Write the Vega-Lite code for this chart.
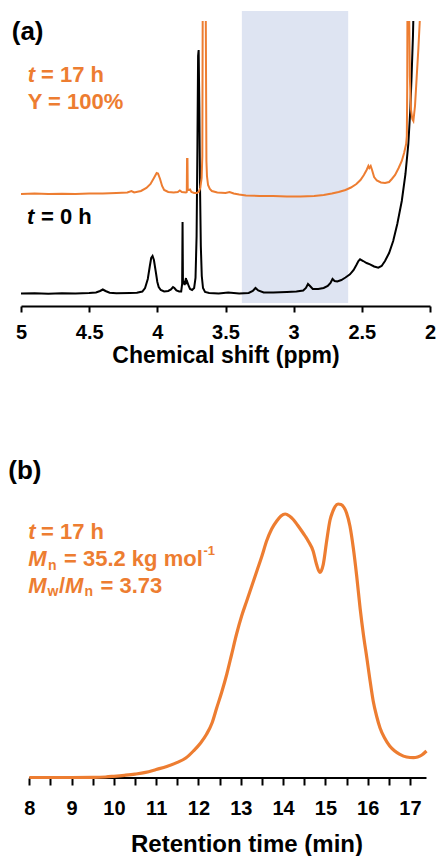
{
  "$schema": "https://vega.github.io/schema/vega-lite/v6.json",
  "background": "white",
  "padding": {"left": 8, "top": 10, "right": 1, "bottom": 0},
  "bounds": "flush",
  "spacing": 192,
  "config": {
    "view": {"stroke": null},
    "font": "Liberation Sans",
    "axis": {
      "labelFont": "Liberation Sans", "labelFontSize": 20, "labelFontWeight": "bold", "labelColor": "#000000",
      "titleFont": "Liberation Sans", "titleFontWeight": "bold", "titleColor": "#000000",
      "tickColor": "#000000", "domainColor": "#000000", "tickWidth": 2, "domainWidth": 2,
      "grid": false, "labelOverlap": false, "labelFlush": false, "labelBound": false
    },
    "text": {"font": "Liberation Sans"}
  },
  "datasets": {
    "shade": [{"ppm": 3.38, "ppm2": 2.60, "intensity": 3, "intensity2": 295}],
    "nmr": [
      {"series":"t = 0 h","ppm":5.0,"intensity":12.5},{"series":"t = 0 h","ppm":4.9,"intensity":12.8},{"series":"t = 0 h","ppm":4.8,"intensity":12.3},{"series":"t = 0 h","ppm":4.7,"intensity":12.8},{"series":"t = 0 h","ppm":4.6,"intensity":12.5},{"series":"t = 0 h","ppm":4.5,"intensity":13},{"series":"t = 0 h","ppm":4.45,"intensity":13.5},{"series":"t = 0 h","ppm":4.42,"intensity":15},{"series":"t = 0 h","ppm":4.40,"intensity":16.5},{"series":"t = 0 h","ppm":4.38,"intensity":15},{"series":"t = 0 h","ppm":4.35,"intensity":13.3},{"series":"t = 0 h","ppm":4.3,"intensity":12.8},{"series":"t = 0 h","ppm":4.2,"intensity":13},{"series":"t = 0 h","ppm":4.15,"intensity":13.2},{"series":"t = 0 h","ppm":4.11,"intensity":14.5},{"series":"t = 0 h","ppm":4.09,"intensity":18},{"series":"t = 0 h","ppm":4.07,"intensity":27},{"series":"t = 0 h","ppm":4.055,"intensity":40},{"series":"t = 0 h","ppm":4.045,"intensity":48},{"series":"t = 0 h","ppm":4.035,"intensity":50},{"series":"t = 0 h","ppm":4.025,"intensity":46},{"series":"t = 0 h","ppm":4.01,"intensity":33},{"series":"t = 0 h","ppm":4.0,"intensity":24},{"series":"t = 0 h","ppm":3.99,"intensity":19},{"series":"t = 0 h","ppm":3.975,"intensity":16},{"series":"t = 0 h","ppm":3.95,"intensity":14.5},{"series":"t = 0 h","ppm":3.92,"intensity":15},{"series":"t = 0 h","ppm":3.90,"intensity":16.5},{"series":"t = 0 h","ppm":3.885,"intensity":19},{"series":"t = 0 h","ppm":3.875,"intensity":18},{"series":"t = 0 h","ppm":3.86,"intensity":15.5},{"series":"t = 0 h","ppm":3.84,"intensity":14.5},{"series":"t = 0 h","ppm":3.825,"intensity":14.5},{"series":"t = 0 h","ppm":3.818,"intensity":22},{"series":"t = 0 h","ppm":3.815,"intensity":84},{"series":"t = 0 h","ppm":3.812,"intensity":22},{"series":"t = 0 h","ppm":3.806,"intensity":25},{"series":"t = 0 h","ppm":3.80,"intensity":21},{"series":"t = 0 h","ppm":3.795,"intensity":24},{"series":"t = 0 h","ppm":3.79,"intensity":28},{"series":"t = 0 h","ppm":3.786,"intensity":22},{"series":"t = 0 h","ppm":3.78,"intensity":24},{"series":"t = 0 h","ppm":3.77,"intensity":20},{"series":"t = 0 h","ppm":3.76,"intensity":17},{"series":"t = 0 h","ppm":3.745,"intensity":16},{"series":"t = 0 h","ppm":3.73,"intensity":18},{"series":"t = 0 h","ppm":3.72,"intensity":28},{"series":"t = 0 h","ppm":3.712,"intensity":70},{"series":"t = 0 h","ppm":3.706,"intensity":160},{"series":"t = 0 h","ppm":3.701,"intensity":250},{"series":"t = 0 h","ppm":3.697,"intensity":256},{"series":"t = 0 h","ppm":3.692,"intensity":200},{"series":"t = 0 h","ppm":3.687,"intensity":120},{"series":"t = 0 h","ppm":3.681,"intensity":60},{"series":"t = 0 h","ppm":3.674,"intensity":30},{"series":"t = 0 h","ppm":3.665,"intensity":18},{"series":"t = 0 h","ppm":3.65,"intensity":14},{"series":"t = 0 h","ppm":3.62,"intensity":13},{"series":"t = 0 h","ppm":3.55,"intensity":12.5},{"series":"t = 0 h","ppm":3.48,"intensity":13.5},{"series":"t = 0 h","ppm":3.4,"intensity":12.5},{"series":"t = 0 h","ppm":3.33,"intensity":13},{"series":"t = 0 h","ppm":3.30,"intensity":15},{"series":"t = 0 h","ppm":3.28,"intensity":18},{"series":"t = 0 h","ppm":3.26,"intensity":15.5},{"series":"t = 0 h","ppm":3.22,"intensity":13.5},{"series":"t = 0 h","ppm":3.15,"intensity":13.5},{"series":"t = 0 h","ppm":3.05,"intensity":14},{"series":"t = 0 h","ppm":2.98,"intensity":14.5},{"series":"t = 0 h","ppm":2.93,"intensity":15.5},{"series":"t = 0 h","ppm":2.91,"intensity":18},{"series":"t = 0 h","ppm":2.895,"intensity":22},{"series":"t = 0 h","ppm":2.88,"intensity":20},{"series":"t = 0 h","ppm":2.86,"intensity":17},{"series":"t = 0 h","ppm":2.82,"intensity":17},{"series":"t = 0 h","ppm":2.78,"intensity":18},{"series":"t = 0 h","ppm":2.75,"intensity":20},{"series":"t = 0 h","ppm":2.73,"intensity":23},{"series":"t = 0 h","ppm":2.715,"intensity":27},{"series":"t = 0 h","ppm":2.70,"intensity":25},{"series":"t = 0 h","ppm":2.68,"intensity":24.5},{"series":"t = 0 h","ppm":2.65,"intensity":26},{"series":"t = 0 h","ppm":2.62,"intensity":28.5},{"series":"t = 0 h","ppm":2.587,"intensity":31.7},{"series":"t = 0 h","ppm":2.56,"intensity":36},{"series":"t = 0 h","ppm":2.54,"intensity":41},{"series":"t = 0 h","ppm":2.525,"intensity":45},{"series":"t = 0 h","ppm":2.513,"intensity":46.7},{"series":"t = 0 h","ppm":2.49,"intensity":45},{"series":"t = 0 h","ppm":2.465,"intensity":43},{"series":"t = 0 h","ppm":2.44,"intensity":41.7},{"series":"t = 0 h","ppm":2.41,"intensity":39.5},{"series":"t = 0 h","ppm":2.379,"intensity":38.3},{"series":"t = 0 h","ppm":2.355,"intensity":40},{"series":"t = 0 h","ppm":2.33,"intensity":45},{"series":"t = 0 h","ppm":2.30,"intensity":53},{"series":"t = 0 h","ppm":2.27,"intensity":65},{"series":"t = 0 h","ppm":2.24,"intensity":82},{"series":"t = 0 h","ppm":2.207,"intensity":105},{"series":"t = 0 h","ppm":2.18,"intensity":132},{"series":"t = 0 h","ppm":2.159,"intensity":162},{"series":"t = 0 h","ppm":2.145,"intensity":195},{"series":"t = 0 h","ppm":2.135,"intensity":230},{"series":"t = 0 h","ppm":2.125,"intensity":270},{"series":"t = 0 h","ppm":2.12,"intensity":300},{"series":"t = 0 h","ppm":2.115,"intensity":340},
      {"series":"t = 17 h","ppm":5.0,"intensity":112},{"series":"t = 17 h","ppm":4.9,"intensity":112.5},{"series":"t = 17 h","ppm":4.8,"intensity":112},{"series":"t = 17 h","ppm":4.7,"intensity":112.3},{"series":"t = 17 h","ppm":4.6,"intensity":112},{"series":"t = 17 h","ppm":4.5,"intensity":112.5},{"series":"t = 17 h","ppm":4.4,"intensity":112.5},{"series":"t = 17 h","ppm":4.3,"intensity":113},{"series":"t = 17 h","ppm":4.22,"intensity":113.5},{"series":"t = 17 h","ppm":4.19,"intensity":115},{"series":"t = 17 h","ppm":4.17,"intensity":113.5},{"series":"t = 17 h","ppm":4.12,"intensity":115},{"series":"t = 17 h","ppm":4.08,"intensity":118},{"series":"t = 17 h","ppm":4.05,"intensity":122},{"series":"t = 17 h","ppm":4.025,"intensity":128},{"series":"t = 17 h","ppm":4.005,"intensity":133},{"series":"t = 17 h","ppm":3.995,"intensity":132.5},{"series":"t = 17 h","ppm":3.98,"intensity":127},{"series":"t = 17 h","ppm":3.965,"intensity":120},{"series":"t = 17 h","ppm":3.95,"intensity":116},{"series":"t = 17 h","ppm":3.92,"intensity":114},{"series":"t = 17 h","ppm":3.88,"intensity":113.5},{"series":"t = 17 h","ppm":3.85,"intensity":114},{"series":"t = 17 h","ppm":3.835,"intensity":115.5},{"series":"t = 17 h","ppm":3.82,"intensity":114},{"series":"t = 17 h","ppm":3.79,"intensity":113.5},{"series":"t = 17 h","ppm":3.784,"intensity":114},{"series":"t = 17 h","ppm":3.782,"intensity":147},{"series":"t = 17 h","ppm":3.779,"intensity":147},{"series":"t = 17 h","ppm":3.777,"intensity":116},{"series":"t = 17 h","ppm":3.77,"intensity":116},{"series":"t = 17 h","ppm":3.76,"intensity":116.5},{"series":"t = 17 h","ppm":3.75,"intensity":114},{"series":"t = 17 h","ppm":3.73,"intensity":113},{"series":"t = 17 h","ppm":3.71,"intensity":113},{"series":"t = 17 h","ppm":3.695,"intensity":114.5},{"series":"t = 17 h","ppm":3.685,"intensity":118},{"series":"t = 17 h","ppm":3.675,"intensity":128},{"series":"t = 17 h","ppm":3.67,"intensity":150},{"series":"t = 17 h","ppm":3.667,"intensity":300},{"series":"t = 17 h","ppm":3.66,"intensity":400},{"series":"t = 17 h","ppm":3.65,"intensity":400},{"series":"t = 17 h","ppm":3.645,"intensity":300},{"series":"t = 17 h","ppm":3.64,"intensity":145},{"series":"t = 17 h","ppm":3.636,"intensity":130},{"series":"t = 17 h","ppm":3.628,"intensity":121},{"series":"t = 17 h","ppm":3.615,"intensity":117},{"series":"t = 17 h","ppm":3.6,"intensity":115},{"series":"t = 17 h","ppm":3.56,"intensity":113.5},{"series":"t = 17 h","ppm":3.5,"intensity":113},{"series":"t = 17 h","ppm":3.47,"intensity":114},{"series":"t = 17 h","ppm":3.44,"intensity":112.5},{"series":"t = 17 h","ppm":3.4,"intensity":111.5},{"series":"t = 17 h","ppm":3.35,"intensity":110.5},{"series":"t = 17 h","ppm":3.25,"intensity":110},{"series":"t = 17 h","ppm":3.15,"intensity":110},{"series":"t = 17 h","ppm":3.05,"intensity":109.5},{"series":"t = 17 h","ppm":2.95,"intensity":109.5},{"series":"t = 17 h","ppm":2.85,"intensity":110},{"series":"t = 17 h","ppm":2.78,"intensity":111},{"series":"t = 17 h","ppm":2.72,"intensity":112.5},{"series":"t = 17 h","ppm":2.67,"intensity":114},{"series":"t = 17 h","ppm":2.62,"intensity":116},{"series":"t = 17 h","ppm":2.58,"intensity":118.5},{"series":"t = 17 h","ppm":2.54,"intensity":122},{"series":"t = 17 h","ppm":2.51,"intensity":126},{"series":"t = 17 h","ppm":2.485,"intensity":131},{"series":"t = 17 h","ppm":2.465,"intensity":136},{"series":"t = 17 h","ppm":2.452,"intensity":140},{"series":"t = 17 h","ppm":2.445,"intensity":138},{"series":"t = 17 h","ppm":2.435,"intensity":140},{"series":"t = 17 h","ppm":2.425,"intensity":136},{"series":"t = 17 h","ppm":2.41,"intensity":129},{"series":"t = 17 h","ppm":2.39,"intensity":125.5},{"series":"t = 17 h","ppm":2.36,"intensity":123.5},{"series":"t = 17 h","ppm":2.33,"intensity":123},{"series":"t = 17 h","ppm":2.30,"intensity":124},{"series":"t = 17 h","ppm":2.28,"intensity":127},{"series":"t = 17 h","ppm":2.256,"intensity":131},{"series":"t = 17 h","ppm":2.23,"intensity":138},{"series":"t = 17 h","ppm":2.207,"intensity":145},{"series":"t = 17 h","ppm":2.19,"intensity":153},{"series":"t = 17 h","ppm":2.175,"intensity":162},{"series":"t = 17 h","ppm":2.17,"intensity":170},{"series":"t = 17 h","ppm":2.167,"intensity":220},{"series":"t = 17 h","ppm":2.165,"intensity":320},{"series":"t = 17 h","ppm":2.16,"intensity":400},{"series":"t = 17 h","ppm":2.155,"intensity":320},{"series":"t = 17 h","ppm":2.148,"intensity":230},{"series":"t = 17 h","ppm":2.14,"intensity":197},{"series":"t = 17 h","ppm":2.13,"intensity":187},{"series":"t = 17 h","ppm":2.122,"intensity":185},{"series":"t = 17 h","ppm":2.11,"intensity":200},{"series":"t = 17 h","ppm":2.098,"intensity":228},{"series":"t = 17 h","ppm":2.085,"intensity":258},{"series":"t = 17 h","ppm":2.075,"intensity":285},{"series":"t = 17 h","ppm":2.07,"intensity":300},{"series":"t = 17 h","ppm":2.065,"intensity":330}
    ],
    "nmrLabel": [{"ppm": 5.068, "intensity": 265.7, "text": "(a)"}],
    "nmrItalic": [
      {"series": "t = 17 h", "ppm": 4.951, "intensity": 224, "text": "t"},
      {"series": "t = 0 h", "ppm": 4.956, "intensity": 81.7, "text": "t"}
    ],
    "nmrPlain": [
      {"series": "t = 17 h", "ppm": 4.853, "intensity": 224, "text": "= 17 h"},
      {"series": "t = 17 h", "ppm": 4.951, "intensity": 197.3, "text": "Y = 100%"},
      {"series": "t = 0 h", "ppm": 4.853, "intensity": 81.7, "text": "= 0 h"}
    ],
    "gpc": [
      {"time":8.0,"signal":0.5},{"time":8.5,"signal":0.5},{"time":9.0,"signal":0.5},{"time":9.5,"signal":0.6},{"time":9.8,"signal":1},{"time":10.0,"signal":1.7},{"time":10.25,"signal":2.7},{"time":10.5,"signal":3.9},{"time":10.75,"signal":5.6},{"time":11.0,"signal":8.5},{"time":11.25,"signal":11.5},{"time":11.5,"signal":15.6},{"time":11.7,"signal":20},{"time":11.88,"signal":27},{"time":12.05,"signal":35},{"time":12.19,"signal":43.7},{"time":12.32,"signal":55},{"time":12.43,"signal":70},{"time":12.55,"signal":86},{"time":12.67,"signal":104},{"time":12.78,"signal":123},{"time":12.90,"signal":144},{"time":13.02,"signal":162},{"time":13.14,"signal":177},{"time":13.26,"signal":192},{"time":13.38,"signal":207},{"time":13.50,"signal":222},{"time":13.61,"signal":237},{"time":13.73,"signal":249},{"time":13.85,"signal":257},{"time":13.95,"signal":262},{"time":14.05,"signal":264},{"time":14.15,"signal":262},{"time":14.24,"signal":258.5},{"time":14.34,"signal":253},{"time":14.44,"signal":247},{"time":14.52,"signal":242},{"time":14.60,"signal":236.5},{"time":14.71,"signal":227},{"time":14.79,"signal":213.7},{"time":14.87,"signal":205.5},{"time":14.95,"signal":213.7},{"time":15.03,"signal":237},{"time":15.11,"signal":258},{"time":15.17,"signal":266},{"time":15.23,"signal":271.5},{"time":15.30,"signal":274},{"time":15.37,"signal":273.5},{"time":15.44,"signal":270.5},{"time":15.50,"signal":265},{"time":15.58,"signal":252},{"time":15.66,"signal":230},{"time":15.74,"signal":202},{"time":15.82,"signal":170},{"time":15.90,"signal":143},{"time":15.98,"signal":120},{"time":16.05,"signal":99},{"time":16.13,"signal":77},{"time":16.21,"signal":62},{"time":16.29,"signal":50.3},{"time":16.40,"signal":40},{"time":16.52,"signal":32},{"time":16.64,"signal":27},{"time":16.76,"signal":23.7},{"time":16.92,"signal":21},{"time":17.08,"signal":20.3},{"time":17.18,"signal":21},{"time":17.28,"signal":23},{"time":17.39,"signal":27}
    ],
    "gpcLabel": [{"time": 7.504, "signal": 298.7, "text": "(b)"}],
    "gpcItalic": [
      {"time": 7.976, "signal": 239.3, "text": "t"},
      {"time": 7.976, "signal": 212, "text": "M"},
      {"time": 7.976, "signal": 185.3, "text": "M"},
      {"time": 8.844, "signal": 185.3, "text": "M"}
    ],
    "gpcPlain": [
      {"time": 8.277, "signal": 239.3, "text": "= 17 h"},
      {"time": 8.820, "signal": 212, "text": "= 35.2 kg mol"},
      {"time": 8.702, "signal": 185.3, "text": "/"},
      {"time": 9.683, "signal": 185.3, "text": "= 3.73"}
    ],
    "gpcSub": [
      {"time": 8.442, "signal": 208.5, "text": "n"},
      {"time": 8.430, "signal": 182, "text": "w"},
      {"time": 9.305, "signal": 182, "text": "n"}
    ],
    "gpcSup": [
      {"time": 12.118, "signal": 223, "text": "-1"}
    ],
    "gpcAxis": [{"time": 8, "time2": 17.39, "signal": 0}]
  },
  "vconcat": [
    {
      "width": 409,
      "height": 285,
      "encoding": {
        "x": {"field": "ppm", "type": "quantitative",
          "scale": {"domain": [2, 5], "reverse": true, "nice": false, "zero": false},
          "axis": {"values": [5, 4.5, 4, 3.5, 3, 2.5, 2], "format": "~g", "title": "Chemical shift (ppm)",
            "tickSize": 6, "labelPadding": 10, "titlePadding": 2, "titleFontSize": 23}},
        "y": {"field": "intensity", "type": "quantitative",
          "scale": {"domain": [0, 285], "nice": false, "zero": false}, "axis": null}
      },
      "layer": [
        {"data": {"name": "shade"}, "mark": {"type": "rect", "color": "#dee4f2"},
          "encoding": {"x2": {"field": "ppm2"}, "y2": {"field": "intensity2"}}},
        {"data": {"name": "nmr"}, "mark": {"type": "line", "strokeWidth": 2, "clip": true},
          "encoding": {"color": {"field": "series", "type": "nominal",
            "scale": {"domain": ["t = 0 h", "t = 17 h"], "range": ["#000000", "#ED7D31"]}, "legend": null}}},
        {"data": {"name": "nmrLabel"}, "mark": {"type": "text", "align": "left", "baseline": "alphabetic", "fontSize": 26, "fontWeight": "bold", "color": "#000000"},
          "encoding": {"text": {"field": "text"}}},
        {"data": {"name": "nmrItalic"}, "mark": {"type": "text", "align": "left", "baseline": "alphabetic", "fontSize": 22, "fontWeight": "bold", "fontStyle": "italic"},
          "encoding": {"text": {"field": "text"}, "color": {"field": "series", "type": "nominal", "legend": null}}},
        {"data": {"name": "nmrPlain"}, "mark": {"type": "text", "align": "left", "baseline": "alphabetic", "fontSize": 22, "fontWeight": "bold"},
          "encoding": {"text": {"field": "text"}, "color": {"field": "series", "type": "nominal", "legend": null}}}
      ]
    },
    {
      "width": 409,
      "height": 280,
      "encoding": {
        "x": {"field": "time", "type": "quantitative",
          "scale": {"domain": [7.804, 17.473], "nice": false, "zero": false},
          "axis": {"values": [8, 8.5, 9, 9.5, 10, 10.5, 11, 11.5, 12, 12.5, 13, 13.5, 14, 14.5, 15, 15.5, 16, 16.5, 17],
            "labelExpr": "datum.value % 1 === 0 ? format(datum.value, 'd') : ''",
            "domain": false, "tickSize": 7, "labelPadding": 13, "title": "Retention time (min)",
            "titlePadding": 14, "titleFontSize": 24, "titleX": 225.5}},
        "y": {"field": "signal", "type": "quantitative",
          "scale": {"domain": [0, 280], "nice": false, "zero": false}, "axis": null}
      },
      "layer": [
        {"data": {"name": "gpcAxis"}, "mark": {"type": "rule", "strokeWidth": 2, "color": "#000000"},
          "encoding": {"x2": {"field": "time2"}}},
        {"data": {"name": "gpc"}, "mark": {"type": "line", "strokeWidth": 3.2, "color": "#ED7D31", "interpolate": "monotone"},
          "encoding": {}},
        {"data": {"name": "gpcLabel"}, "mark": {"type": "text", "align": "left", "baseline": "alphabetic", "fontSize": 26, "fontWeight": "bold", "color": "#000000"},
          "encoding": {"text": {"field": "text"}}},
        {"data": {"name": "gpcItalic"}, "mark": {"type": "text", "align": "left", "baseline": "alphabetic", "fontSize": 22, "fontWeight": "bold", "fontStyle": "italic", "color": "#ED7D31"},
          "encoding": {"text": {"field": "text"}}},
        {"data": {"name": "gpcPlain"}, "mark": {"type": "text", "align": "left", "baseline": "alphabetic", "fontSize": 22, "fontWeight": "bold", "color": "#ED7D31"},
          "encoding": {"text": {"field": "text"}}},
        {"data": {"name": "gpcSub"}, "mark": {"type": "text", "align": "left", "baseline": "alphabetic", "fontSize": 14, "fontWeight": "bold", "color": "#ED7D31"},
          "encoding": {"text": {"field": "text"}}},
        {"data": {"name": "gpcSup"}, "mark": {"type": "text", "align": "left", "baseline": "alphabetic", "fontSize": 13, "fontWeight": "bold", "color": "#ED7D31"},
          "encoding": {"text": {"field": "text"}}}
      ]
    }
  ]
}
